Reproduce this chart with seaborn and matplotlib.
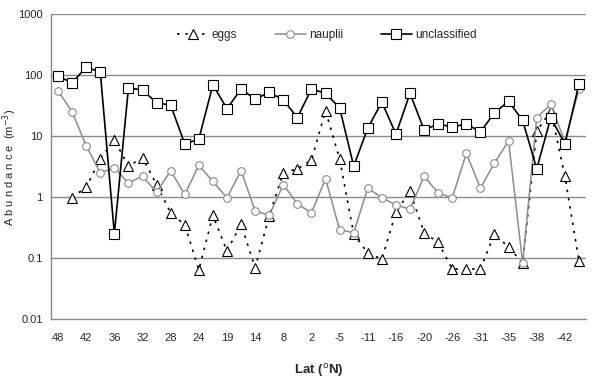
import numpy as np
import matplotlib
matplotlib.use("Agg")
import matplotlib.pyplot as plt
import seaborn as sns

sns.set_style("white")
plt.rcParams['font.family'] = ['Liberation Sans Narrow', 'Liberation Sans', 'DejaVu Sans']

# station latitudes (only every other station is labelled on the axis)
lat_labels = ['48', '42', '36', '32', '28', '24', '19', '14', '8', '2',
              '-5', '-11', '-16', '-20', '-26', '-31', '-35', '-38', '-42']

# abundances (m^-3), one value per station, 38 stations
eggs = [np.nan, 0.98, 1.45, 4.2, 8.6, 3.2, 4.4, 1.6, 0.55, 0.35,
        0.064, 0.5, 0.13, 0.36, 0.069, 0.49, 2.5, 2.9, 4.0, 26,
        4.2, 0.25, 0.12, 0.096, 0.56, 1.25, 0.26, 0.18, 0.066, 0.066,
        0.066, 0.25, 0.15, 0.083, 12, 26, 2.2, 0.09]
nauplii = [55, 25, 6.9, 2.5, 3.0, 1.7, 2.2, 1.2, 2.7, 1.1,
           3.3, 1.8, 0.97, 2.7, 0.59, 0.5, 1.6, 0.77, 0.55, 2.0,
           0.29, 0.26, 1.4, 0.97, 0.74, 0.63, 2.2, 1.16, 0.97, 5.2,
           1.4, 3.6, 8.3, 0.083, 20, 33, 8, 59]
unclassified = [96, 74, 135, 112, 0.25, 61, 57, 35, 32, 7.4,
                8.9, 69, 28, 59, 40, 52, 39, 20, 59, 50,
                29, 3.2, 13.5, 36, 10.7, 50, 12.6, 15.8, 14, 15.8,
                11.7, 24, 37, 18, 2.9, 20, 7.4, 71]

station = np.arange(len(unclassified))

fig = plt.figure(figsize=(5.95, 3.92), dpi=100)
ax = fig.add_axes([51/595, 1 - 319/392, 535/595, 305/392])

grid_col = '#8a8a8a'
for v in [1, 10, 100, 1000, 0.1]:
    ax.axhline(v, color=grid_col, lw=1, zorder=0)

sns.lineplot(x=station, y=eggs, ax=ax, color='black', lw=1.2,
             linestyle=(0, (1.5, 3.5)), marker='^', markersize=7,
             markerfacecolor='white', markeredgecolor='black', markeredgewidth=0.8,
             label='eggs', zorder=3)
sns.lineplot(x=station, y=nauplii, ax=ax, color='#8c8c8c', lw=1.1,
             marker='o', markersize=5.5, markerfacecolor='white',
             markeredgecolor='#8c8c8c', markeredgewidth=0.8,
             label='nauplii', zorder=4)
sns.lineplot(x=station, y=unclassified, ax=ax, color='black', lw=1.2,
             marker='s', markersize=6.5, markerfacecolor='white',
             markeredgecolor='black', markeredgewidth=0.8,
             label='unclassified', zorder=5)

ax.set_yscale('log')
ax.set_ylim(0.01, 1000)
ax.set_xlim(-0.5, len(station) - 0.5)
yt = [0.01, 0.1, 1, 10, 100, 1000]
ax.set_yticks(yt)
ax.set_yticklabels(['0.01', '0.1', '1', '10', '100', '1000'], fontsize=8)
ax.minorticks_off()
ax.tick_params(axis='y', length=4, width=1, color=grid_col, direction='out', pad=2)

ax.set_xticks(np.arange(-0.5, len(station), 1), minor=True)
ax.set_xticks(station[::2])
ax.set_xticklabels(lat_labels, fontsize=8)
ax.tick_params(axis='x', which='major', length=0, pad=10)
ax.tick_params(axis='x', which='minor', length=4, width=1, color=grid_col, direction='out')

for s in ['top', 'right']:
    ax.spines[s].set_visible(False)
for s in ['left', 'bottom']:
    ax.spines[s].set_color(grid_col)
    ax.spines[s].set_linewidth(1)

ax.set_ylabel('A b u n d a n c e  (m$^{-3}$)', fontsize=8)
ax.yaxis.set_label_coords(-0.06, 0.498)
ax.set_xlabel('Lat ($^{\\rm o}$N)', fontsize=9.5, fontweight='bold', labelpad=14)

ax.legend(loc='upper center', bbox_to_anchor=(0.516, 0.985), ncol=3, frameon=False,
          fontsize=8.5, handlelength=2.6, columnspacing=3.2, handletextpad=0.3)

plt.savefig('out.png', dpi=100)
